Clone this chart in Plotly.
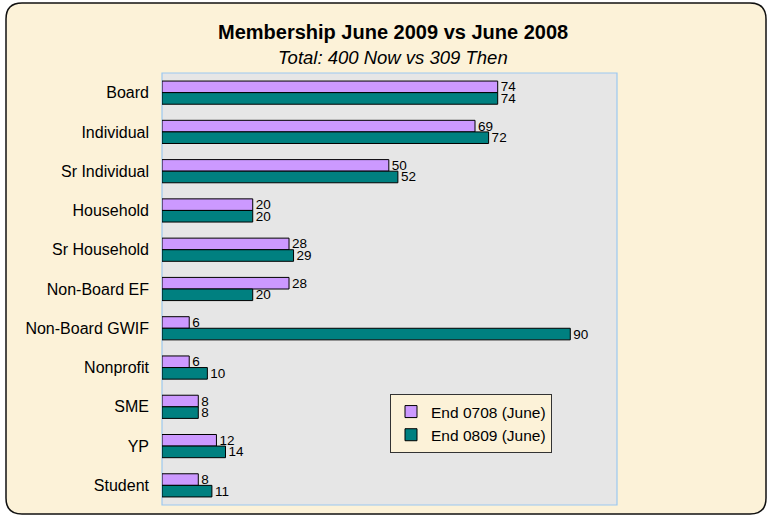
import plotly.graph_objects as go

categories = ["Board", "Individual", "Sr Individual", "Household", "Sr Household",
              "Non-Board EF", "Non-Board GWIF", "Nonprofit", "SME", "YP", "Student"]
end_0708 = [74, 69, 50, 20, 28, 28, 6, 6, 8, 12, 8]
end_0809 = [74, 72, 52, 20, 29, 20, 90, 10, 8, 14, 11]
series_names = ["End 0708 (June)", "End 0809 (June)"]

W, H = 770, 517
L, R, T, B = 162, 617, 73, 505

def px(x):
    return (x - L) / (R - L)

def py(y):
    return (B - y) / (B - T)

def rounded_rect(x0, y0, x1, y1, r):
    pts = [
        f"M {px(x0 + r)} {py(y0)}",
        f"L {px(x1 - r)} {py(y0)}",
        f"Q {px(x1)} {py(y0)} {px(x1)} {py(y0 + r)}",
        f"L {px(x1)} {py(y1 - r)}",
        f"Q {px(x1)} {py(y1)} {px(x1 - r)} {py(y1)}",
        f"L {px(x0 + r)} {py(y1)}",
        f"Q {px(x0)} {py(y1)} {px(x0)} {py(y1 - r)}",
        f"L {px(x0)} {py(y0 + r)}",
        f"Q {px(x0)} {py(y0)} {px(x0 + r)} {py(y0)}",
        "Z",
    ]
    return " ".join(pts)

FONT = "Arial, Liberation Sans, sans-serif"
LABEL_SIZE = 13.5

fig = go.Figure()
fig.add_trace(go.Bar(
    y=categories, x=end_0708, orientation="h", name=series_names[0],
    marker=dict(color="#CC99FF", line=dict(color="black", width=1)),
    text=end_0708, textposition="outside", cliponaxis=False, constraintext="none",
    textfont=dict(size=LABEL_SIZE, color="black", family=FONT),
))
fig.add_trace(go.Bar(
    y=categories, x=end_0809, orientation="h", name=series_names[1],
    marker=dict(color="#008080", line=dict(color="black", width=1)),
    text=end_0809, textposition="outside", cliponaxis=False, constraintext="none",
    textfont=dict(size=LABEL_SIZE, color="black", family=FONT),
))

shapes = [
    dict(type="path", xref="paper", yref="paper", layer="below",
         path=rounded_rect(6, 3, 766, 514, 16),
         fillcolor="#FCF2D8", line=dict(color="#111111", width=1.5)),
    dict(type="rect", xref="paper", yref="paper", layer="below",
         x0=0, x1=1, y0=0, y1=1,
         fillcolor="#E6E6E6", line=dict(color="#9CC8F0", width=1.2)),
]

fig.update_layout(
    width=W, height=H,
    margin=dict(l=L, r=W - R, t=T, b=H - B, pad=0),
    paper_bgcolor="white", plot_bgcolor="#E6E6E6",
    barmode="group", bargap=0.41, bargroupgap=0,
    font=dict(family=FONT, size=16, color="black"),
    showlegend=True,
    legend=dict(
        x=px(390), y=py(394), xanchor="left", yanchor="top",
        bgcolor="#FCF2D8", bordercolor="#333333", borderwidth=1,
        font=dict(size=15.5, family=FONT, color="black"),
        traceorder="normal", itemwidth=30, tracegroupgap=0,
    ),
    shapes=shapes,
    annotations=[
        dict(text="<b>Membership June 2009 vs June 2008</b>", xref="paper", yref="paper",
             x=px(393), y=py(32), xanchor="center", yanchor="middle", showarrow=False,
             font=dict(size=20, family=FONT, color="black")),
        dict(text="<i>Total: 400 Now vs 309 Then</i>", xref="paper", yref="paper",
             x=px(393), y=py(58), xanchor="center", yanchor="middle", showarrow=False,
             font=dict(size=18.5, family=FONT, color="black")),
    ],
)
fig.update_xaxes(range=[0, 100.3], visible=False, showgrid=False, zeroline=False, fixedrange=True)
fig.update_yaxes(categoryorder="array", categoryarray=categories, autorange="reversed",
                 showgrid=False, zeroline=False, ticks="", ticklabelstandoff=12,
                 showline=False, tickfont=dict(size=16, family=FONT, color="black"))

fig.write_html("out.html", config={"displayModeBar": False},
               post_script="document.body.style.margin='0';")
